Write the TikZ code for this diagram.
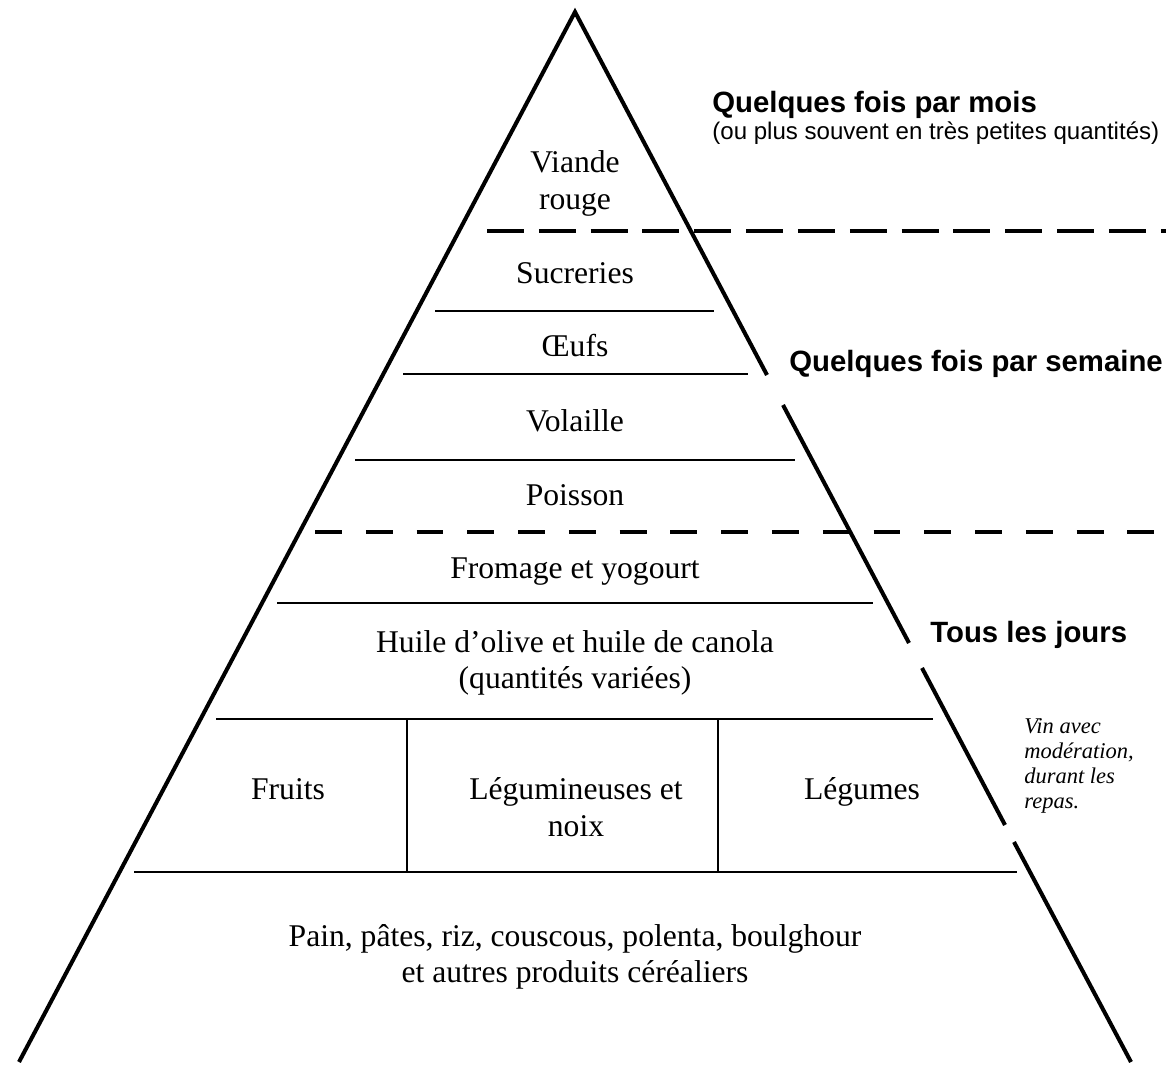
\documentclass[tikz,border=0pt]{standalone}
\usepackage{fontspec}
\setmainfont{Liberation Serif}
\setsansfont{Liberation Sans}
\usetikzlibrary{positioning}

\begin{document}
\begin{tikzpicture}[x=0.02cm, y=-0.02cm,
  food/.style={anchor=base, inner sep=0pt, font=\fontsize{18}{21}\selectfont},
  freq/.style={anchor=base west, inner sep=0pt, font=\sffamily\bfseries\fontsize{16.7}{20}\selectfont},
  note/.style={anchor=base west, inner sep=0pt, font=\sffamily\fontsize{13.7}{16}\selectfont},
  wine/.style={anchor=base west, inner sep=0pt, font=\itshape\fontsize{12.8}{15}\selectfont},
  side/.style={line width=2.3pt},
  level/.style={line width=1.1pt},
  limit/.style={line width=2.3pt}]
\useasboundingbox (0,0) rectangle (1166,1067);

% sides of the pyramid
\coordinate (top) at (575,12);
\coordinate (bl) at (19,1062);
\coordinate (br) at (1131,1062);
\draw[side] (bl) -- (top) -- (767,375);
\draw[side] (783,405) -- (909,643);
\draw[side] (922,668) -- (1005,825);
\draw[side] (1014,842) -- (br);

% dashed limits
\draw[limit, dash pattern=on 21pt off 8.5pt] (487,231) -- (1166,231);
\draw[limit, dash pattern=on 15.3pt off 13.6pt] (315,532) -- (1166,532);

% levels
\draw[level] (435,311) -- (714,311);
\draw[level] (403,374) -- (748,374);
\draw[level] (355,460) -- (795,460);
\draw[level] (277,603) -- (873,603);
\draw[level] (216,719) -- (933,719);
\draw[level] (134,872) -- (1017,872);
\draw[level] (407,719) -- (407,872);
\draw[level] (718,719) -- (718,872);

% foods
\node (viande) [food] at (575,173) {Viande};
\node (rouge) [food] at (575,210) {rouge};
\node (sucre) [food] at (575,284) {Sucreries};
\node (oeufs) [food] at (575,357) {Œufs};
\node (volaille) [food] at (575,431) {Volaille};
\node (poisson) [food] at (575,505) {Poisson};
\node (fromage) [food] at (575,578) {Fromage et yogourt};
\node (huile) [food] at (575,652) {Huile d’olive et huile de canola};
\node (quant) [food] at (575,688) {(quantités variées)};
\node (fruits) [food] at (288,799) {Fruits};
\node (legumin) [food] at (576,799) {Légumineuses et};
\node (noix) [food] at (576,836) {noix};
\node (legumes) [food] at (862,799) {Légumes};
\node (pain) [food] at (575,946) {Pain, pâtes, riz, couscous, polenta, boulghour};
\node (autres) [food] at (575,982) {et autres produits céréaliers};

% frequencies
\node (mois) [freq] at (712,113) {Quelques fois par mois};
\node (souvent) [note] at (712,140) {(ou plus souvent en très petites quantités)};
\node (semaine) [freq] at (789,372) {Quelques fois par semaine};
\node (jours) [freq] at (930,642) {Tous les jours};
\node (vin1) [wine] at (1024,733) {Vin avec};
\node (vin2) [wine] at (1024,758) {modération,};
\node (vin3) [wine] at (1024,783) {durant les};
\node (vin4) [wine] at (1024,808) {repas.};
\end{tikzpicture}
\end{document}
